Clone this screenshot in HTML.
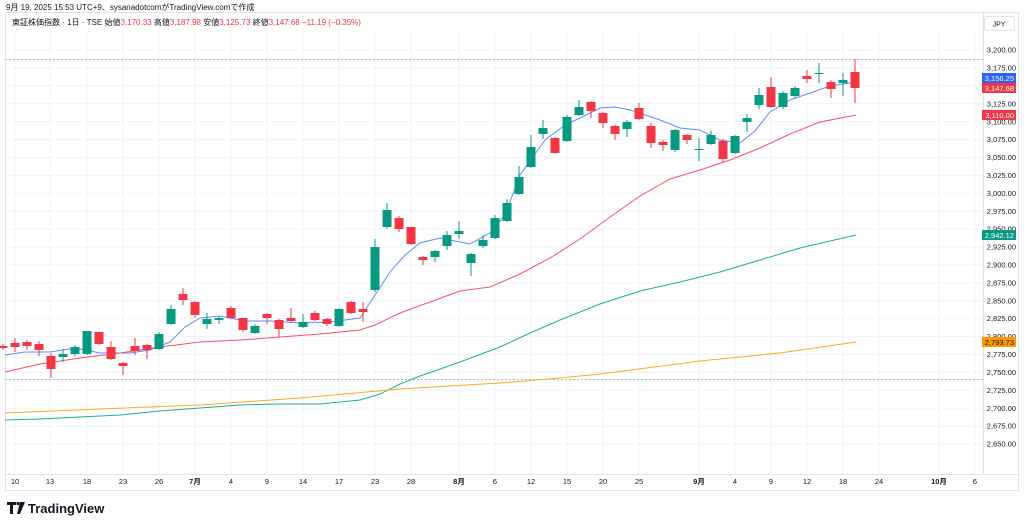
<!DOCTYPE html>
<html><head><meta charset="utf-8"><style>
body{margin:0;background:#fff;width:1024px;height:524px;overflow:hidden;font-family:"Liberation Sans","Noto Sans CJK JP",sans-serif}
svg{position:absolute;left:0;top:0}
</style></head><body>
<svg id="s" width="1024" height="524" viewBox="0 0 1024 524" font-family="Liberation Sans, Noto Sans CJK JP, sans-serif">
<rect x="5.5" y="12.5" width="1013" height="478" fill="#fff" stroke="#e0e3eb"/>
<g id="grid"></g>
<line x1="983.5" y1="12" x2="983.5" y2="474" stroke="#e0e3eb"/>
<line x1="5" y1="474.5" x2="1019" y2="474.5" stroke="#e0e3eb"/>
<line x1="5" y1="59.5" x2="983" y2="59.5" stroke="#b2b5be" stroke-dasharray="2,2"/>
<line x1="5" y1="379.5" x2="983" y2="379.5" stroke="#b2b5be" stroke-dasharray="2,2"/>
<g id="lines"></g>
<g id="candles"></g>
<text x="6" y="10" font-size="8" fill="#131722">9月 19, 2025 15:53 UTC+9、sysanadotcomがTradingView.comで作成</text>
<text x="12" y="25" font-size="8" fill="#131722">東証株価指数 · 1日 · TSE <tspan>始値</tspan><tspan fill="#f23645">3,170.33</tspan> 高値<tspan fill="#f23645">3,187.98</tspan> 安値<tspan fill="#f23645">3,125.73</tspan> 終値<tspan fill="#f23645">3,147.68 −11.19 (−0.35%)</tspan></text>
<rect x="984.5" y="16.5" width="30" height="14" rx="2" fill="#fff" stroke="#e0e3eb"/>
<text x="999" y="26.5" font-size="7" fill="#131722" text-anchor="middle">JPY</text>
<g font-size="7.5" fill="#131722" text-anchor="end">
<text x="1016" y="52.5">3,200.00</text><text x="1016" y="70.5">3,175.00</text><text x="1016" y="106.5">3,125.00</text><text x="1016" y="124.5">3,100.00</text><text x="1016" y="142">3,075.00</text><text x="1016" y="160">3,050.00</text><text x="1016" y="178">3,025.00</text><text x="1016" y="196">3,000.00</text><text x="1016" y="214">2,975.00</text><text x="1016" y="231.5">2,950.00</text><text x="1016" y="249.5">2,925.00</text><text x="1016" y="267.5">2,900.00</text><text x="1016" y="285.5">2,875.00</text><text x="1016" y="303.5">2,850.00</text><text x="1016" y="321">2,825.00</text><text x="1016" y="339">2,800.00</text><text x="1016" y="357">2,775.00</text><text x="1016" y="375">2,750.00</text><text x="1016" y="393">2,725.00</text><text x="1016" y="411">2,700.00</text><text x="1016" y="428.5">2,675.00</text><text x="1016" y="446.5">2,650.00</text>
</g>
<g font-size="7.5" fill="#fff" text-anchor="end">
<rect x="982" y="73" width="34" height="10" fill="#2962ff"/><text x="1014" y="81">3,156.25</text>
<rect x="982" y="83" width="34" height="10" fill="#f23645"/><text x="1014" y="91">3,147.68</text>
<rect x="982" y="110" width="34" height="10" fill="#f23645"/><text x="1014" y="118">3,110.00</text>
<rect x="982" y="230" width="34" height="10" fill="#089981"/><text x="1014" y="238">2,942.12</text>
<rect x="982" y="337" width="34" height="10" fill="#ff9800"/><text x="1014" y="345" fill="#131722">2,793.73</text>
</g>
<g font-size="7.5" fill="#131722" text-anchor="middle">
<text x="15" y="484">10</text><text x="50" y="484">13</text><text x="87" y="484">18</text><text x="123" y="484">23</text><text x="159" y="484">26</text><text x="195" y="484" font-weight="bold">7月</text><text x="231" y="484">4</text><text x="267" y="484">9</text><text x="303" y="484">14</text><text x="339" y="484">17</text><text x="375" y="484">23</text><text x="411" y="484">28</text><text x="459" y="484" font-weight="bold">8月</text><text x="495" y="484">6</text><text x="531" y="484">12</text><text x="567" y="484">15</text><text x="603" y="484">20</text><text x="639" y="484">25</text><text x="699" y="484" font-weight="bold">9月</text><text x="735" y="484">4</text><text x="771" y="484">9</text><text x="807" y="484">12</text><text x="843" y="484">18</text><text x="879" y="484">24</text><text x="939" y="484" font-weight="bold">10月</text><text x="975" y="484">6</text>
</g>
<g fill="#131722"><path d="M7 502h9v3h-3v9h-3v-9h-3z"/><circle cx="18" cy="503.5" r="1.6"/><path d="M20 502h5l-5 12h-3z"/></g>
<text x="28" y="513" font-size="13" font-weight="bold" fill="#131722">TradingView</text>
</svg>
<script>
var NS="http://www.w3.org/2000/svg";
function el(p,t,a){var e=document.createElementNS(NS,t);for(var k in a)e.setAttribute(k,a[k]);document.getElementById(p).appendChild(e);}
for(var i=0;i<23;i++){var y=50+i*17.909;el("grid","line",{x1:5,x2:983,y1:y,y2:y,stroke:"#f0f3fa"});}
[15,50,87,123,159,195,231,267,303,339,375,411,459,495,531,567,603,639,699,735,771,807,843,879,939,975].forEach(function(x){el("grid","line",{x1:x,x2:x,y1:30,y2:474,stroke:"#f0f3fa"});});
function pl(pts,c){el("lines","polyline",{points:pts.map(function(p){return p.join(",")}).join(" "),fill:"none",stroke:c,"stroke-width":1});}
pl([[5,355],[25,352],[50,352],[75,348],[100,353],[130,353],[150,350],[170,342],[185,327],[200,318],[220,316],[245,321],[270,321],[300,323],[330,322],[360,318],[375,295],[390,272],[405,255],[420,243],[440,238],[470,244],[490,233],[505,215],[520,175],[545,140],[565,125],[580,118],[600,108],[615,107],[630,110],[645,115],[660,120],[680,128],[700,130],[720,140],[740,143],[755,131],[770,112],[790,100],[810,93],[830,86],[856,82]],"#5b8cff");
pl([[5,372],[40,364],[80,358],[120,353],[160,347],[200,342],[240,340],[280,337],[320,334],[360,330],[375,325],[400,313],[430,302],[460,291],[490,287],[520,274],[550,258],[580,239],[610,217],[640,196],[670,179],[700,170],[730,160],[760,148],[790,134],[820,122],[856,115]],"#f7525f");
pl([[5,420],[40,419],[80,417],[120,415],[160,411],[200,408],[240,405],[280,404],[320,404],[360,400],[380,394],[400,384],[420,376],[460,362],[500,347],[530,333],[560,320],[600,304],[640,291],[680,282],[720,272],[760,260],[800,248],[856,235]],"#22ab94");
pl([[5,413],[100,409],[200,405],[300,398],[400,389],[500,383],[560,378],[600,374],[700,361],[780,353],[856,342]],"#ffa726");
// [color, top, bottom, high, low]
var C=[
["r",346,348,344,350],["r",343,347,338,352],["r",342,346,340,350],["r",344,350,341,356],["r",356,369,353,378],["g",354,357,349,362],["g",347,354,345,356],["g",331,354,331,355],["r",332,344,332,345],["r",347,359,341,360],["r",363,366,362,375],["r",346,351,338,355],["r",345,350,344,359],["g",334,349,332,350],["g",309,324,305,325],["r",294,300,288,305],["r",302,315,301,318],["g",319,324,313,329],["g",318,320,316,324],["r",308,318,306,319],["r",318,330,318,332],["g",326,333,324,334],["r",314,318,313,324],["r",320,329,319,337],["r",318,321,308,323],["g",322,327,314,328],["r",313,320,311,321],["r",319,324,318,326],["g",309,326,308,327],["r",302,313,301,314],["r",309,312,302,322],
["g",247,290,239,292],["g",210,227,203,229],["r",218,229,216,232],["r",227,244,227,245],["r",257,260,256,265],["g",251,257,250,262],["g",235,246,231,250],["g",231,234,221,239],["g",254,263,253,276],["g",240,246,235,248],["g",218,238,215,239],["g",203,221,199,222],["g",177,194,166,195],["g",147,167,135,168],["g",128,134,120,139],["r",138,153,137,154],["g",117,141,115,142],["g",107,115,100,116],["r",102,111,101,118],["r",113,123,112,128],["r",126,134,125,140],["g",122,129,120,137],["r",108,119,103,120],["r",126,143,123,148],["r",142,145,140,151],["g",130,150,129,152],["r",135,140,134,144],["g",149,150,138,161],["g",135,144,131,145],["r",141,159,139,162],["g",136,153,135,154],["g",118,122,114,132],["g",95,105,88,109],["r",87,107,77,108],["g",93,107,91,109],["g",88,96,86,98],["r",76,79,70,83],["g",73,74,63,83],["r",82,89,80,98],["g",80,83,73,96],["r",72,88,59,103]];
C.forEach(function(c,i){var x=3+12*i;var col=c[0]=="g"?"#089981":"#f23645";
el("candles","line",{x1:x,x2:x,y1:c[3],y2:c[4],stroke:col,"stroke-width":1});
el("candles","rect",{x:x-4.5,y:c[1],width:9,height:Math.max(1,c[2]-c[1]),fill:col});});
</script>
</body></html>
